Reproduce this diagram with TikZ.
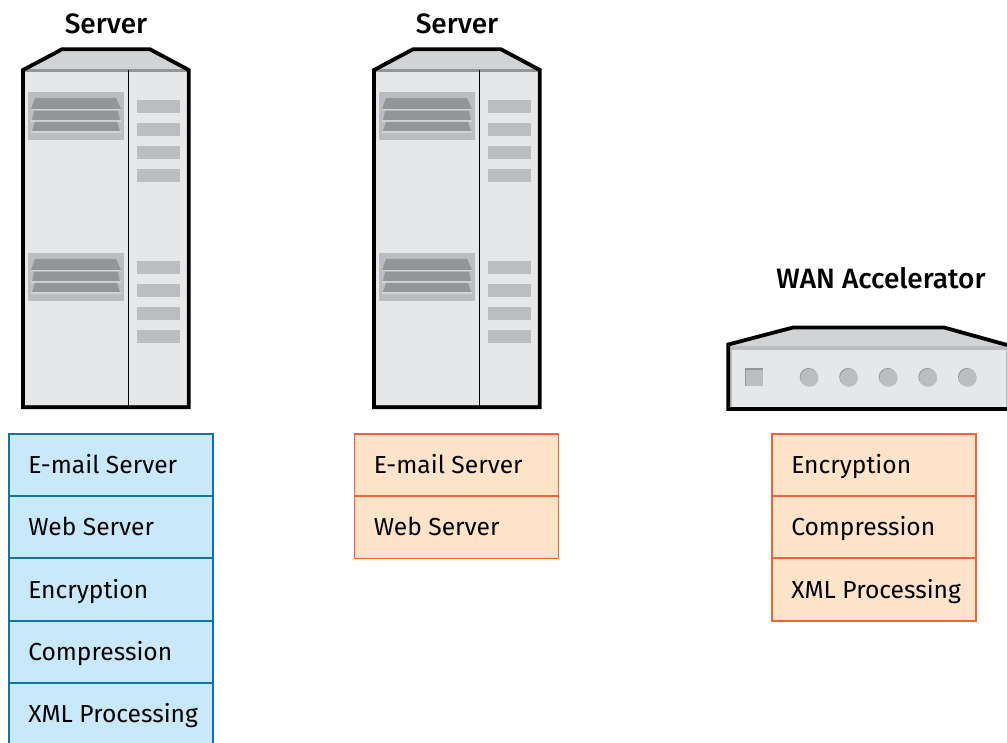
\documentclass[tikz,border=0pt]{standalone}
\usepackage{fontspec}
\setmainfont{Fira Sans}
\newfontfamily\titlefont{Fira Sans}[UprightFont=* Medium]
\definecolor{bodygray}{HTML}{E6E7E8}
\definecolor{roofgray}{HTML}{D1D3D4}
\definecolor{partgray}{HTML}{BCBDC0}
\definecolor{slatgray}{HTML}{939598}
\definecolor{blueline}{HTML}{0F75A8}
\definecolor{bluefill}{HTML}{C7E9F9}
\definecolor{orangeline}{HTML}{F26532}
\definecolor{orangefill}{HTML}{FDE3C8}
\tikzset{
  outline/.style={draw=black, line width=3.8pt, line join=miter},
  cell/.style={rectangle, line width=1.9pt, minimum width=204pt, minimum height=62.4pt, inner sep=0pt},
  bluecell/.style={cell, draw=blueline, fill=bluefill},
  orangecell/.style={cell, draw=orangeline, fill=orangefill},
  celltext/.style={anchor=base west, inner sep=0pt, font=\fontsize{24.6}{28}\selectfont},
  devicetitle/.style={anchor=base, inner sep=0pt, font=\titlefont\fontsize{28}{32}\selectfont},
  part/.style={fill=partgray, draw=none},
  slat/.style={fill=slatgray, draw=none},
  strip/.style={fill=roofgray, draw=none},
  lamp/.style={circle, minimum size=18pt, inner sep=0pt, fill=partgray, draw=none}
}
\begin{document}
\begin{tikzpicture}[x=1pt, y=-1pt]
\useasboundingbox (0,0) rectangle (1007,743);

% servers
\foreach \s in {0, 351} {
\begin{scope}[shift={(\s,0)}]
  \fill[roofgray] (23,70) -- (62,49.3) -- (150,49.3) -- (188.8,70) -- cycle;
  \fill[bodygray] (23,70) rectangle (188.8,407.3);
  \draw[slatgray, line width=1pt] (24.7,71) rectangle (187.3,405.7);
  \draw[slatgray, line width=2.5pt] (24.7,70.5) -- (187.3,70.5);
  \draw[line width=1.5pt] (128.5,70) -- (128.5,407);
  \draw[outline] (23,70) -- (62,49.3) -- (150,49.3) -- (188.8,70) -- (188.8,407.3) -- (23,407.3) -- cycle;
  \foreach \g in {0, 161} {
    \fill[part] (28,92+\g) rectangle (124,140+\g);
    \fill[slat] (35,98+\g) -- (116,98+\g) -- (121,109+\g) -- (31,109+\g) -- cycle;
    \fill[strip] (31,109+\g) rectangle (121,110.5+\g);
    \fill[slat] (34,111+\g) -- (118,111+\g) -- (120,120.5+\g) -- (32,120.5+\g) -- cycle;
    \fill[strip] (31,120.5+\g) rectangle (121,122+\g);
    \fill[slat] (35,122+\g) -- (117,122+\g) -- (120,131+\g) -- (32,131+\g) -- cycle;
    \fill[strip] (31,131+\g) rectangle (121,133+\g);
    \foreach \y in {0, ..., 3}
      \fill[part] (137,{100+23*\y+\g}) rectangle (180,{113+23*\y+\g});
  }
\end{scope}
}

% wan accelerator
\fill[roofgray] (728.3,344.5) -- (793,327.5) -- (944,327.5) -- (1007,345) -- (1007,350) -- (728.3,350) -- cycle;
\fill[part] (728.3,345.7) rectangle (1007,409);
\fill[bodygray] (732,350) rectangle (1006,406.7);
\draw[outline] (1007,345) -- (944,327.5) -- (793,327.5) -- (728.3,344.5) -- (728.3,409) -- (1007,409);
\fill[slatgray] (745,368.3) rectangle (763,386);
\fill[part] (746.3,369.6) rectangle (763,386);
\foreach \x [count=\i] in {808.7, 848.2, 887.8, 927.4, 967} {
  \fill[slatgray] (\x,377) circle (9);
  \node[lamp] (lamp \i) at (\x+0.8,377.8) {};
}

% labels
\node[devicetitle] (title left) at (106,34) {Server};
\node[devicetitle] (title mid) at (457,34) {Server};
\node[devicetitle] (title wan) at (881,289) {WAN Accelerator};

% stacks
\foreach \t [count=\i from 0] in {E-mail Server, Web Server, Encryption, Compression, XML Processing} {
  \node[bluecell] (left \i) at (111,{465+62.3*\i}) {};
  \node[celltext] (left text \i) at ([xshift=20pt,yshift=-8.6pt]left \i.west) {\t};
}
\foreach \t [count=\i from 0] in {E-mail Server, Web Server} {
  \node[orangecell] (mid \i) at (456.5,{465+62.3*\i}) {};
  \node[celltext] (mid text \i) at ([xshift=20pt,yshift=-8.6pt]mid \i.west) {\t};
}
\foreach \t [count=\i from 0] in {Encryption, Compression, XML Processing} {
  \node[orangecell] (wan \i) at (874,{465+62.3*\i}) {};
  \node[celltext] (wan text \i) at ([xshift=20pt,yshift=-8.6pt]wan \i.west) {\t};
}
\end{tikzpicture}
\end{document}
